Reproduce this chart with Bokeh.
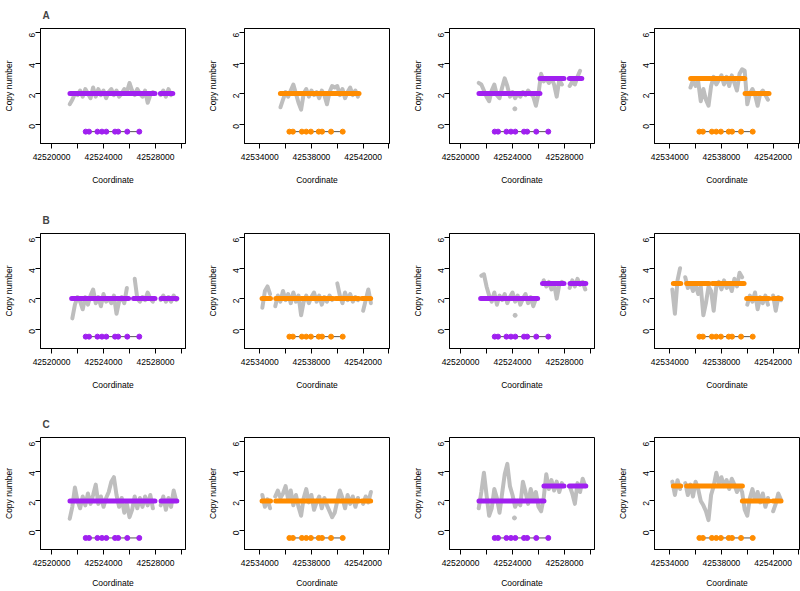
import math
import numpy as np
from bokeh.plotting import figure
from bokeh.layouts import gridplot
from bokeh.models import FixedTicker, Range1d
from bokeh.embed import file_html
from bokeh.resources import INLINE

NaN = float("nan")
BIN = 200

# ---------------- axes ----------------
purple_xlim = (42519150, 42530310)
orange_xlim = (42532820, 42544040)
y_lim = (-1.28, 6.28)
purple_ticks = [42520000, 42522000, 42524000, 42526000, 42528000, 42530000]
purple_tick_labels = ["42520000", "", "42524000", "", "42528000", ""]
orange_ticks = [42534000, 42536000, 42538000, 42540000, 42542000, 42544000]
orange_tick_labels = ["42534000", "", "42538000", "", "42542000", ""]
y_ticks = [0, 2, 4, 6]
row_titles = ["A", "B", "C"]

# ---------------- gene models ----------------
gene_y = -0.5
purple_exons = [42522630, 42522886, 42523532, 42523880, 42524215, 42524884, 42525128, 42525827, 42526752]
orange_exons = [42536293, 42536566, 42537262, 42537596, 42537958, 42538564, 42538820, 42539516, 42540420]

# ---------------- copy-number traces (bins of 200 bp) ----------------
a1_start = 42521400
a1_cn = [1.3, 1.6, 2.0, 1.9, 2.2, 1.8, 2.3, 2.0, 1.7, 2.4, 1.8, 2.3, 1.9, 2.2, 1.7, 2.1, 2.3, 1.9, 2.2, 1.8,
         2.0, 2.3, 2.1, 2.7, 2.2, 1.9, 2.3, 2.0, 1.8, 2.2, 1.4, 1.9, 2.1, NaN, NaN, 1.9, 2.2, 1.8, 2.3, 1.9]
a1_seg_start = [42521420, 42528380]
a1_seg_end = [42527960, 42529330]
a1_seg_cn = [2, 2]

a2_start = 42535600
a2_cn = [1.1, 1.6, 2.1, 1.8, 2.2, 2.6, 2.0, 1.4, 0.95, 2.0, 2.3, 1.8, 2.2, 1.9, 2.1, 1.7, 2.2, 1.9, 1.3, 2.1,
         2.5, 2.4, 2.5, 1.9, 2.3, 1.7, 2.1, 2.4, 1.9, 2.2, 1.8]
a2_seg_start = [42535600]
a2_seg_end = [42541680]
a2_seg_cn = [2]

a3_start = 42521400
a3_cn = [2.7, 2.6, 2.2, 1.8, 1.5, 2.2, 2.6, 1.9, 1.7, 2.4, 3.0, 2.5, 1.8, 2.1, 1.7, 2.0, 1.8, 2.1, 1.9, 2.2,
         2.0, 1.8, 1.2, 2.0, 3.3, 2.8, 3.0, 2.7, 3.0, 2.6, 1.8, 2.9, 2.6, NaN, NaN, 2.5, 2.8, 2.6, 3.1, 3.5]
a3_seg_start = [42521420, 42526110, 42528380]
a3_seg_end = [42526110, 42527960, 42529330]
a3_seg_cn = [2, 3, 3]
a3_out_x = [42524180]
a3_out_cn = [1.0]

a4_start = 42535600
a4_cn = [2.4, 2.9, 2.5, 2.8, 1.5, 2.3, 1.6, 1.2, 2.5, 3.1, 2.6, 2.9, 3.2, 2.6, 3.1, 2.5, 3.2, 2.7, 2.2, 3.3,
         3.6, 3.5, 1.3, 2.0, 2.3, 1.9, 1.2, 2.0, 2.2, 1.9, 1.6]
a4_seg_start = [42535620, 42537250, 42539830]
a4_seg_end = [42537110, 42539800, 42541680]
a4_seg_cn = [3, 3, 2]

b1_start = 42521600
b1_cn = [0.7, 1.6, 2.1, 1.8, 1.3, 2.1, 1.6, 2.2, 2.6, 1.7, 2.1, 1.5, 2.3, 1.8, 2.0, 1.7, 2.2, 1.0, 1.8, 2.1,
         1.7, 2.7, NaN, NaN, 3.3, 2.0, 1.8, 2.1, 1.9, 2.4, 2.0, 1.8, NaN, NaN, 1.9, 2.2, 1.8, 2.1, 1.8, 2.2, 1.9]
b1_seg_start = [42521550, 42526310, 42528430]
b1_seg_end = [42525930, 42527960, 42529640]
b1_seg_cn = [2, 2, 2]

b2_start = 42534200
b2_cn = [1.4, 2.5, 2.8, 2.3, NaN, 1.5, 2.2, 1.8, 2.5, 1.9, 2.3, 1.7, 2.4, 1.8, 2.2, 0.9, 1.8, 2.2, 1.7, 2.1,
         2.4, 1.8, 2.2, 1.6, 2.1, 1.8, 2.2, 1.9, NaN, 3.0, 2.2, 1.7, 2.4, 1.9, 2.3, 1.8, 2.1, 1.9, NaN, 1.2,
         1.9, 2.6, 1.7]
b2_seg_start = [42534180, 42535240, 42537220, 42539880, 42541910]
b2_seg_end = [42534830, 42537040, 42539670, 42541660, 42542580]
b2_seg_cn = [2, 2, 2, 2, 2]

b3_start = 42521600
b3_cn = [3.5, 3.6, 2.8, 2.2, 1.8, 2.4, 1.6, 2.2, 1.9, 2.3, 1.7, 2.1, 2.4, 1.8, 2.2, 1.6, 2.0, 2.3, 1.7, 2.1,
         1.5, 2.0, NaN, NaN, 3.2, 2.8, 3.1, 2.6, 3.0, 2.0, 2.9, 3.1, NaN, NaN, 2.7, 3.2, 2.8, 3.3, 2.9, 3.1, 2.6]
b3_seg_start = [42521550, 42526310, 42528430]
b3_seg_end = [42525930, 42527960, 42529640]
b3_seg_cn = [2, 3, 3]
b3_out_x = [42524200]
b3_out_cn = [0.9]

b4_start = 42534200
b4_cn = [2.6, 1.0, 3.2, 4.0, NaN, 3.4, 2.7, 3.0, 2.5, 2.9, 2.3, 2.8, 0.9, 1.7, 2.8, 2.5, 1.2, 2.8, 3.1, 2.6,
         3.2, 2.7, 3.0, 2.5, 3.3, 2.8, 3.7, 3.4, NaN, 1.6, 2.2, 1.8, 2.4, 1.3, 2.1, 1.7, 2.2, 1.6, NaN, 2.2,
         1.2, 2.1, 1.9]
b4_seg_start = [42534280, 42535310, 42537300, 42539950, 42541990]
b4_seg_end = [42534850, 42537040, 42539750, 42541680, 42542610]
b4_seg_cn = [3, 3, 3, 2, 2]

c1_start = 42521400
c1_cn = [0.8, 1.6, 2.9, 2.0, 1.5, 2.3, 1.7, 2.5, 1.8, 2.4, 3.1, 1.8, 2.3, 1.6, 2.2, 2.6, 3.3, 3.6, 2.4, 1.6,
         2.2, 1.2, 1.8, 0.9, 1.4, 2.3, 1.5, 2.2, 1.6, 2.3, 1.7, 2.4, 1.5, NaN, NaN, 1.7, 2.3, 1.4, 2.2, 1.6,
         2.7, 2.0]
c1_seg_start = [42521420, 42528430]
c1_seg_end = [42527960, 42529640]
c1_seg_cn = [2, 2]

c2_start = 42534200
c2_cn = [2.4, 1.6, 2.1, 1.5, NaN, 2.3, 2.7, 2.2, 2.5, 3.0, 2.1, 2.7, 1.7, 2.4, 1.6, 1.0, 2.2, 2.8, 1.9, 2.4,
         1.4, 1.9, 2.3, 1.5, 2.2, 1.7, 1.3, 0.9, 1.2, 2.0, 2.7, 2.2, 1.5, 2.4, 1.8, 2.3, 1.6, 2.2, NaN, 1.8,
         2.3, 1.9, 2.6]
c2_seg_start = [42534180, 42535240, 42541910]
c2_seg_end = [42534830, 42541680, 42542580]
c2_seg_cn = [2, 2, 2]

c3_start = 42521400
c3_cn = [1.5, 2.6, 3.9, 2.4, 1.0, 1.5, 2.8, 2.2, 1.2, 2.5, 3.8, 4.5, 3.0, 2.4, 1.6, 2.0, 1.7, 3.3, 2.6, 1.8,
         2.8, 2.1, 2.6, 1.6, 1.3, 2.2, 3.8, 2.8, 3.4, 2.7, 3.3, 2.6, 3.2, NaN, NaN, 3.0, 2.5, 1.8, 3.2, 2.6,
         3.5, 3.0]
c3_seg_start = [42521420, 42526420, 42528380]
c3_seg_end = [42526420, 42527960, 42529640]
c3_seg_cn = [2, 3, 3]
c3_out_x = [42524150]
c3_out_cn = [0.85]

c4_start = 42534200
c4_cn = [3.3, 2.4, 3.4, 2.8, NaN, 3.2, 2.4, 3.1, 2.3, 3.3, 2.8, 2.0, 1.7, 1.3, 0.7, 2.4, 3.0, 3.9, 3.2, 3.6,
         3.0, 3.4, 2.8, 3.5, 3.1, 2.6, 3.0, 2.6, 1.4, 1.0, 2.2, 2.8, 2.0, 2.6, 1.9, 2.5, 1.6, 2.2, NaN, 1.3,
         1.8, 2.5, 2.1]
c4_seg_start = [42534280, 42535310, 42539620, 42541990]
c4_seg_end = [42534850, 42539620, 42541680, 42542610]
c4_seg_cn = [3, 3, 2, 2]

# ---------------- styling ----------------
PURPLE = "#A020F0"
ORANGE = "#FF8C00"
GREY = "#BEBEBE"
FONT = "Liberation Sans"
FRAME_W, FRAME_H = 145, 115
LEFT = [40, 40, 40, 40]
RIGHT = [19, 20, 20, 1]
TOP = 28
BOTTOM = [62, 61, 38]


def panel(r, c, start, cn, seg_s, seg_e, seg_cn, out_x=None, out_cn=None):
    purple = c in (0, 2)
    color = PURPLE if purple else ORANGE
    xlim = purple_xlim if purple else orange_xlim
    ticks = purple_ticks if purple else orange_ticks
    tlabels = purple_tick_labels if purple else orange_tick_labels
    exons = purple_exons if purple else orange_exons

    p = figure(width=LEFT[c] + FRAME_W + RIGHT[c], height=TOP + FRAME_H + BOTTOM[r],
               x_range=Range1d(*xlim), y_range=Range1d(*y_lim),
               output_backend="svg", toolbar_location=None,
               min_border_left=LEFT[c], min_border_right=RIGHT[c],
               min_border_top=TOP, min_border_bottom=BOTTOM[r],
               title=row_titles[r] if c == 0 else None)
    p.grid.visible = False
    p.outline_line_color = "black"
    p.outline_line_width = 1
    p.background_fill_color = "white"
    p.border_fill_color = "white"
    if c == 0:
        p.title.text_font = FONT
        p.title.text_font_size = "10px"
        p.title.text_font_style = "bold"
        p.title.align = "left"
        p.title.offset = 2
        p.title.standoff = 15

    for ax in (p.xaxis[0], p.yaxis[0]):
        ax.major_tick_in = 0
        ax.major_tick_out = 5
        ax.minor_tick_line_color = None
        ax.axis_line_color = "black"
        ax.major_tick_line_color = "black"
        ax.major_label_text_font = FONT
        ax.major_label_text_font_size = "8.5px"
        ax.major_label_text_color = "black"
        ax.axis_label_text_font = FONT
        ax.axis_label_text_font_size = "8.5px"
        ax.axis_label_text_font_style = "normal"
        ax.axis_label_text_color = "black"
        ax.major_label_standoff = 3

    p.xaxis.ticker = FixedTicker(ticks=ticks)
    p.xaxis.major_label_overrides = {t: l for t, l in zip(ticks, tlabels)}
    p.xaxis.axis_label = "Coordinate"
    p.xaxis.major_label_standoff = 5
    p.xaxis.axis_label_standoff = 12 if r < 2 else 9

    p.yaxis.ticker = FixedTicker(ticks=y_ticks)
    p.yaxis.major_label_orientation = math.pi / 2
    p.yaxis.axis_label = "Copy number"
    p.yaxis.axis_label_standoff = 10

    xs = start + BIN * np.arange(len(cn))
    p.line(xs, np.array(cn, dtype=float), line_color=GREY, line_width=4,
           line_join="round", line_cap="round")
    if out_x:
        p.scatter(out_x, out_cn, size=4, color=GREY)
    p.segment(x0=seg_s, y0=seg_cn, x1=seg_e, y1=seg_cn, line_color=color,
              line_width=5, line_cap="round")
    p.line([exons[0], exons[-1]], [gene_y, gene_y], line_color="#555555", line_width=1)
    p.scatter(exons, [gene_y] * len(exons), size=5, color=color, marker="circle")
    return p


plots = [
    [panel(0, 0, a1_start, a1_cn, a1_seg_start, a1_seg_end, a1_seg_cn),
     panel(0, 1, a2_start, a2_cn, a2_seg_start, a2_seg_end, a2_seg_cn),
     panel(0, 2, a3_start, a3_cn, a3_seg_start, a3_seg_end, a3_seg_cn, a3_out_x, a3_out_cn),
     panel(0, 3, a4_start, a4_cn, a4_seg_start, a4_seg_end, a4_seg_cn)],
    [panel(1, 0, b1_start, b1_cn, b1_seg_start, b1_seg_end, b1_seg_cn),
     panel(1, 1, b2_start, b2_cn, b2_seg_start, b2_seg_end, b2_seg_cn),
     panel(1, 2, b3_start, b3_cn, b3_seg_start, b3_seg_end, b3_seg_cn, b3_out_x, b3_out_cn),
     panel(1, 3, b4_start, b4_cn, b4_seg_start, b4_seg_end, b4_seg_cn)],
    [panel(2, 0, c1_start, c1_cn, c1_seg_start, c1_seg_end, c1_seg_cn),
     panel(2, 1, c2_start, c2_cn, c2_seg_start, c2_seg_end, c2_seg_cn),
     panel(2, 2, c3_start, c3_cn, c3_seg_start, c3_seg_end, c3_seg_cn, c3_out_x, c3_out_cn),
     panel(2, 3, c4_start, c4_cn, c4_seg_start, c4_seg_end, c4_seg_cn)],
]

layout = gridplot(plots, toolbar_location=None)
open("out.html", "w").write(file_html(layout, INLINE))
